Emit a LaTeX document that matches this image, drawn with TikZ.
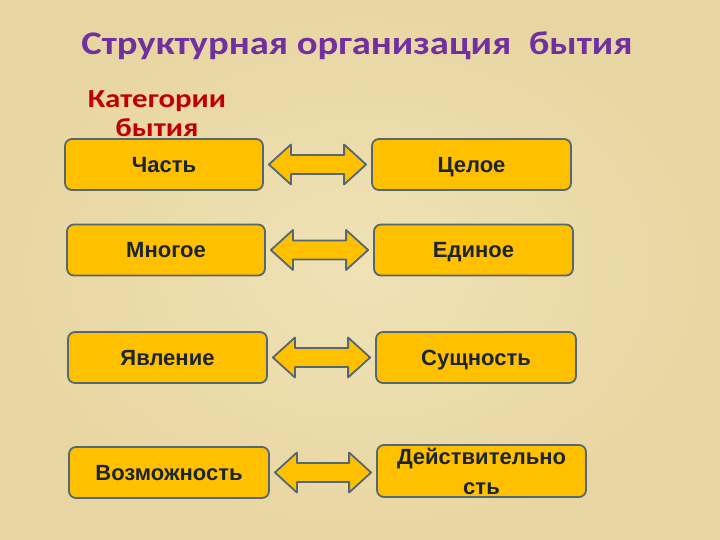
\documentclass[tikz,border=0pt]{standalone}
\usepackage{fontspec}
\setmainfont{Carlito}
\newfontfamily\widefont[FakeStretch=1.17]{Carlito}
\newfontfamily\catfont[FakeStretch=1.19]{Carlito}
\newfontfamily\boxfont{Liberation Sans}
\usetikzlibrary{calc}
\definecolor{bg}{RGB}{232,214,162}
\definecolor{bglight}{RGB}{240,226,182}
\definecolor{gold}{RGB}{255,192,0}
\definecolor{edge}{RGB}{84,104,115}
\definecolor{ttl}{RGB}{112,48,160}
\definecolor{cat}{RGB}{192,0,0}
\definecolor{txt}{RGB}{28,36,44}
\tikzset{
  box/.style={draw=edge, line width=1.8pt, fill=gold, rounded corners=7pt,
    minimum height=51pt, text=txt, font=\boxfont\bfseries\fontsize{22}{24}\selectfont,
    align=center, inner sep=2pt},
  one/.style={text height=16pt, text depth=0pt},
  arr/.style={draw=edge, line width=1.8pt, fill=gold, line join=round}
}
\newcommand{\dblarr}[2]{%
  \draw[arr] let \p1=($(#1.east)+(5pt,0)$), \p2=($(#2.west)-(5pt,0)$) in
    (\p1) -- (\x1+22pt,\y1+20pt) -- (\x1+22pt,\y1+9.5pt) -- (\x2-22pt,\y1+9.5pt)
    -- (\x2-22pt,\y1+20pt) -- (\x2,\y1) -- (\x2-22pt,\y1-20pt) -- (\x2-22pt,\y1-9.5pt)
    -- (\x1+22pt,\y1-9.5pt) -- (\x1+22pt,\y1-20pt) -- cycle;}
\begin{document}
\begin{tikzpicture}[x=1pt,y=-1pt]
\path[use as bounding box, inner color=bglight, outer color=bg] (0,0) rectangle (720,540);
\node[text=ttl, font=\widefont\bfseries\fontsize{33}{36}\selectfont] (title) at (357,46) {Структурная организация\ \ бытия};
\node[text=cat, font=\catfont\bfseries\fontsize{26}{29}\selectfont, align=center] (cat) at (157,114) {Категории\\бытия};
\node[box, one, minimum width=198pt] (a1) at (164,164.5) {Часть};
\node[box, one, minimum width=199pt] (b1) at (471.5,164.5) {Целое};
\node[box, one, minimum width=198pt] (a2) at (166,250) {Многое};
\node[box, one, minimum width=199pt] (b2) at (473.5,250) {Единое};
\node[box, one, minimum width=199pt] (a3) at (167.5,357.5) {Явление};
\node[box, one, minimum width=200pt] (b3) at (476,357.5) {Сущность};
\node[box, one, minimum width=200pt] (a4) at (169,472.5) {Возможность};
\node[box, minimum width=209pt, minimum height=52pt, inner sep=0pt] (b4) at (481.5,471) {Действительно\\[6pt]сть};
\dblarr{a1}{b1}
\dblarr{a2}{b2}
\dblarr{a3}{b3}
\dblarr{a4}{b4}
\end{tikzpicture}
\end{document}
